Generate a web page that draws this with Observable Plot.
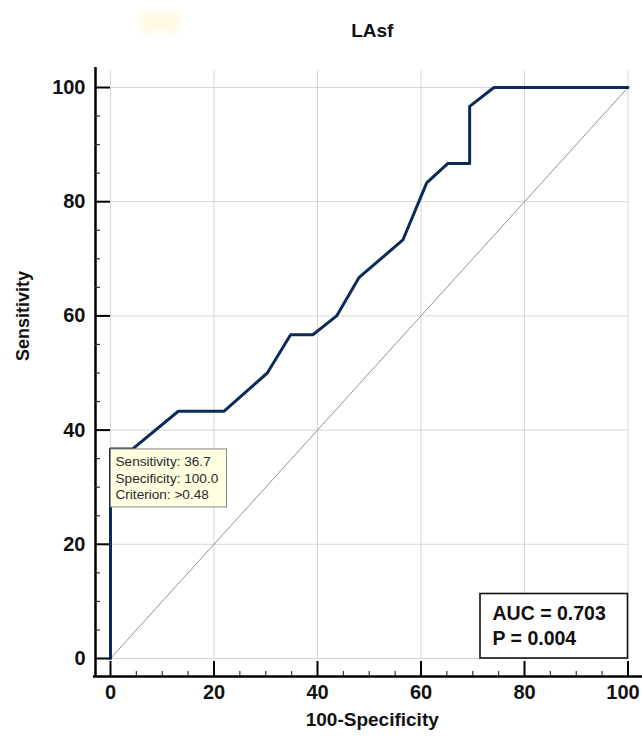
<!DOCTYPE html>
<html>
<head>
<meta charset="utf-8">
<script src="https://cdn.jsdelivr.net/npm/d3@7"></script>
<script src="https://cdn.jsdelivr.net/npm/@observablehq/plot@0.6"></script>
<style>
  html, body { margin: 0; padding: 0; background: #fff; overflow: hidden; }
  #wrap { position: relative; width: 642px; height: 742px; }
  .blob { position: absolute; width: 22px; height: 22px; border-radius: 50%; background: #fff6cc; filter: blur(3px); opacity: 0.6; }
  svg text { font-family: "Liberation Sans", Arial, sans-serif; }
</style>
</head>
<body>
<div id="wrap">
  <div class="blob" style="left:139px;top:11px"></div>
  <div class="blob" style="left:159px;top:11px"></div>
</div>
<script>
// ROC curve points (100-Specificity, Sensitivity)
const fpr = [0, 0, 4.3, 13.1, 21.9, 30.3, 34.8, 39.1, 43.7, 48.0, 56.5, 61.1, 65.2, 69.4, 69.4, 74.1, 100];
const tpr = [0, 36.7, 36.7, 43.3, 43.3, 50.0, 56.7, 56.7, 60.0, 66.7, 73.3, 83.3, 86.7, 86.7, 96.7, 100, 100];
const diagX = [0, 100];
const diagY = [0, 100];
const majorTicks = [0, 20, 40, 60, 80, 100];
const minorTicks = [5, 10, 15, 25, 30, 35, 45, 50, 55, 65, 70, 75, 85, 90, 95];
const title = "LAsf";
const xLabel = "100-Specificity";
const yLabel = "Sensitivity";
const cutSens = 36.7, cutFpr = 0;
const tooltipLines = ["Sensitivity: 36.7", "Specificity: 100.0", "Criterion: >0.48"];
const statLines = ["AUC = 0.703", "P = 0.004"];

const roc = fpr.map((x, i) => ({x, y: tpr[i]}));
const diag = diagX.map((x, i) => ({x, y: diagY[i]}));
const xInner = majorTicks.slice(0, -1);
const xLast = majorTicks.slice(-1);

const plot = Plot.plot({
  width: 642,
  height: 742,
  marginLeft: 110,
  marginRight: 14.5,
  marginTop: 87,
  marginBottom: 84,
  style: {fontFamily: "'Liberation Sans', Arial, sans-serif", color: "#111", background: "transparent"},
  x: {domain: [0, 100], label: null},
  y: {domain: [0, 100], label: null},
  marks: [
    Plot.gridX(majorTicks, {stroke: "#d6d6d6", strokeOpacity: 1, insetTop: -17}),
    Plot.gridY(majorTicks, {stroke: "#d6d6d6", strokeOpacity: 1, insetLeft: -15}),
    Plot.line(diag, {x: "x", y: "y", stroke: "#9c8c8c", strokeWidth: 1}),
    Plot.line(roc, {x: "x", y: "y", stroke: "#0c2a5a", strokeWidth: 3, strokeLinejoin: "round"}),
    // axis lines
    Plot.ruleX([0], {dx: -15, insetTop: -20, insetBottom: -19, stroke: "#000", strokeWidth: 2.5}),
    Plot.ruleY([0], {dy: 18, insetLeft: -17, insetRight: -15, stroke: "#000", strokeWidth: 2.5}),
    // major ticks and labels
    Plot.axisX(xInner, {tickSize: 15, dy: 3, tickPadding: 8, fontSize: 20, fontWeight: "bold", stroke: "#000", strokeWidth: 2, label: null}),
    Plot.axisX(xLast, {tickSize: 15, dy: 3, text: null, stroke: "#000", strokeWidth: 2, label: null}),
    Plot.axisX(xLast, {tickSize: 0, dy: 3, dx: -5, tickPadding: 23, fontSize: 20, fontWeight: "bold", label: null}),
    Plot.axisY(majorTicks, {tickSize: 15, tickPadding: 10, fontSize: 20, fontWeight: "bold", stroke: "#000", strokeWidth: 2, label: null}),
    // minor ticks
    Plot.axisX(minorTicks, {tickSize: 5, dy: 13, text: null, stroke: "#333", strokeWidth: 1.2, label: null}),
    Plot.axisY(minorTicks, {tickSize: 5, dx: -10, text: null, stroke: "#333", strokeWidth: 1.2, label: null}),
    // titles
    Plot.text([title], {text: d => d, frameAnchor: "top", dx: 3, dy: -64, fontSize: 19, fontWeight: "bold", fill: "#111"}),
    Plot.text([xLabel], {text: d => d, frameAnchor: "bottom", dx: 3, dy: 67, fontSize: 19, fontWeight: "bold", fill: "#111"}),
    Plot.text([yLabel], {text: d => d, frameAnchor: "left", rotate: -90, dx: -87, dy: -12, fontSize: 18, fontWeight: "bold", fill: "#111"})
  ]
});

const xs = plot.scale("x"), ys = plot.scale("y");
const svg = d3.select(plot);

// tooltip at the cut-off point
const tx = xs.apply(cutFpr) + 0.5, ty = ys.apply(cutSens) + 0.5;
const tip = svg.append("g").attr("text-anchor", "start");
tip.append("rect").attr("x", tx).attr("y", ty).attr("width", 116).attr("height", 58)
  .attr("fill", "#ffffe1").attr("stroke", "#8a8a7a").attr("stroke-width", 1);
tooltipLines.forEach((t, i) => {
  tip.append("text").attr("x", tx + 5).attr("y", ty + 17 + i * 16.7)
    .attr("font-size", 13.6).attr("fill", "#2a2a2a").text(t);
});

// AUC box anchored at bottom-right of the frame
const bx = xs.apply(100), by = ys.apply(0);
const box = svg.append("g").attr("text-anchor", "start");
box.append("rect").attr("x", bx - 147.5).attr("y", by - 64.5).attr("width", 147.5).attr("height", 64.5)
  .attr("fill", "#fff").attr("stroke", "#111").attr("stroke-width", 1.6);
statLines.forEach((t, i) => {
  box.append("text").attr("x", bx - 135).attr("y", by - 38 + i * 25)
    .attr("font-size", 19.5).attr("font-weight", "bold").attr("fill", "#111").text(t);
});

plot.style.position = "absolute";
plot.style.left = "0";
plot.style.top = "0";
document.getElementById("wrap").appendChild(plot);
</script>
</body>
</html>
